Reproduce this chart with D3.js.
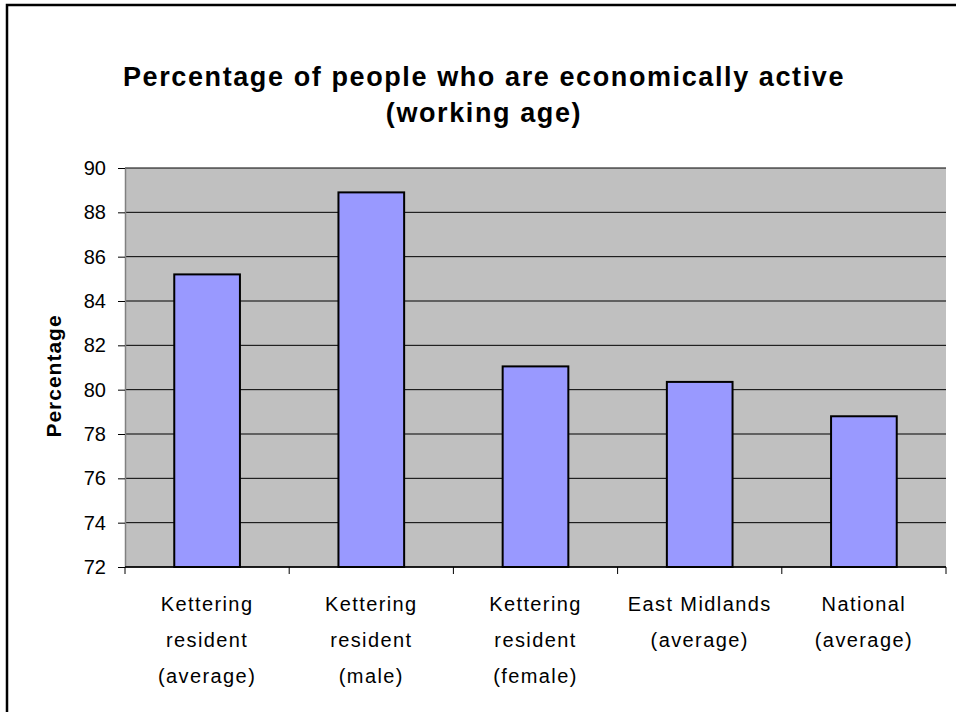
<!DOCTYPE html>
<html>
<head>
<meta charset="utf-8">
<script src="https://cdn.jsdelivr.net/npm/d3@7"></script>
<style>
  body { margin: 0; background: #fff; }
  svg text { font-family: "Liberation Sans", Arial, sans-serif; fill: #000; }
</style>
</head>
<body>
<svg id="chart" width="956" height="712"></svg>
<script>
// chart data
var categories = ["Kettering resident (average)", "Kettering resident (male)", "Kettering resident (female)", "East Midlands (average)", "National (average)"];
var categoryLines = [["Kettering", "resident", "(average)"], ["Kettering", "resident", "(male)"], ["Kettering", "resident", "(female)"], ["East Midlands", "(average)"], ["National", "(average)"]];
var values = [85.2, 88.9, 81.05, 80.35, 78.8];
var yTicks = [72, 74, 76, 78, 80, 82, 84, 86, 88, 90];
var titleLines = ["Percentage of people who are economically active", "(working age)"];

var svg = d3.select("svg#chart");

//Use the margin convention practice
var margin = {top: 168, right: 10, bottom: 145, left: 125}
  , width = 956 - margin.left - margin.right
  , height = 712 - margin.top - margin.bottom;

// outer frame of the chart
svg.append("rect")
    .attr("x", 7).attr("y", 5)
    .attr("width", 970).attr("height", 730)
    .attr("fill", "none")
    .attr("stroke", "#000")
    .attr("stroke-width", 2.5);

// title
svg.append("g").selectAll("text")
    .data(titleLines)
  .enter().append("text")
    .attr("x", 484)
    .attr("y", function(d, i) { return 86 + i * 36; })
    .attr("text-anchor", "middle")
    .attr("font-size", "27px")
    .attr("font-weight", "bold")
    .attr("letter-spacing", "1.6px")
    .text(function(d) { return d; });

var g = svg.append("g")
    .attr("transform", "translate(" + margin.left + "," + margin.top + ")");

var xScale = d3.scaleBand()
    .domain(categories)
    .range([0, width])
    .paddingInner(0.6)
    .paddingOuter(0.3);

var yScale = d3.scaleLinear()
    .domain([72, 90])
    .range([height, 0]);

// plot background
g.append("rect")
    .attr("width", width)
    .attr("height", height)
    .attr("fill", "#c0c0c0");

// gridlines
g.append("g").selectAll("line")
    .data(yTicks)
  .enter().append("line")
    .attr("x1", 0).attr("x2", width)
    .attr("y1", function(d) { return yScale(d); })
    .attr("y2", function(d) { return yScale(d); })
    .attr("stroke", "#000")
    .attr("stroke-width", 1);

// bars
g.append("g").selectAll("rect")
    .data(values)
  .enter().append("rect")
    .attr("x", function(d, i) { return xScale(categories[i]); })
    .attr("y", function(d) { return yScale(d); })
    .attr("width", xScale.bandwidth())
    .attr("height", function(d) { return height - yScale(d); })
    .attr("fill", "#9999ff")
    .attr("stroke", "#000")
    .attr("stroke-width", 2);

// y axis
var yAxis = g.append("g")
    .attr("class", "y axis")
    .call(d3.axisLeft(yScale).tickValues(yTicks).tickSizeInner(7).tickSizeOuter(0).tickPadding(12));
yAxis.select(".domain").attr("stroke", "#808080").attr("stroke-width", 1.5);
yAxis.selectAll(".tick line").attr("stroke", "#000");
yAxis.selectAll(".tick text")
    .attr("font-size", "20px")
    .attr("font-family", "Liberation Sans, Arial, sans-serif");

// x axis line with ticks between categories
var step = xScale.step();
var boundaries = categories.map(function(c) { return xScale(c) - (step - xScale.bandwidth()) / 2; });
boundaries.push(width);
var xAxis = g.append("g")
    .attr("class", "x axis")
    .attr("transform", "translate(0," + height + ")");
xAxis.append("line")
    .attr("x1", 0).attr("x2", width)
    .attr("stroke", "#000").attr("stroke-width", 1.5);
xAxis.selectAll("line.tick")
    .data(boundaries)
  .enter().append("line")
    .attr("class", "tick")
    .attr("x1", function(d) { return d; })
    .attr("x2", function(d) { return d; })
    .attr("y1", 0).attr("y2", 7)
    .attr("stroke", "#000");

// category labels
var labels = xAxis.selectAll("text.cat")
    .data(categoryLines)
  .enter().append("text")
    .attr("class", "cat")
    .attr("text-anchor", "middle")
    .attr("font-size", "20px")
    .attr("letter-spacing", "1.4px")
    .attr("transform", function(d, i) { return "translate(" + (xScale(categories[i]) + xScale.bandwidth() / 2) + ",0)"; });
labels.selectAll("tspan")
    .data(function(d) { return d; })
  .enter().append("tspan")
    .attr("x", 0)
    .attr("y", function(d, i) { return 44 + i * 36; })
    .text(function(d) { return d; });

// y axis title
svg.append("text")
    .attr("transform", "translate(61,376) rotate(-90)")
    .attr("text-anchor", "middle")
    .attr("font-size", "21px")
    .attr("font-weight", "bold")
    .attr("letter-spacing", "1px")
    .text("Percentage");
</script>
</body>
</html>
